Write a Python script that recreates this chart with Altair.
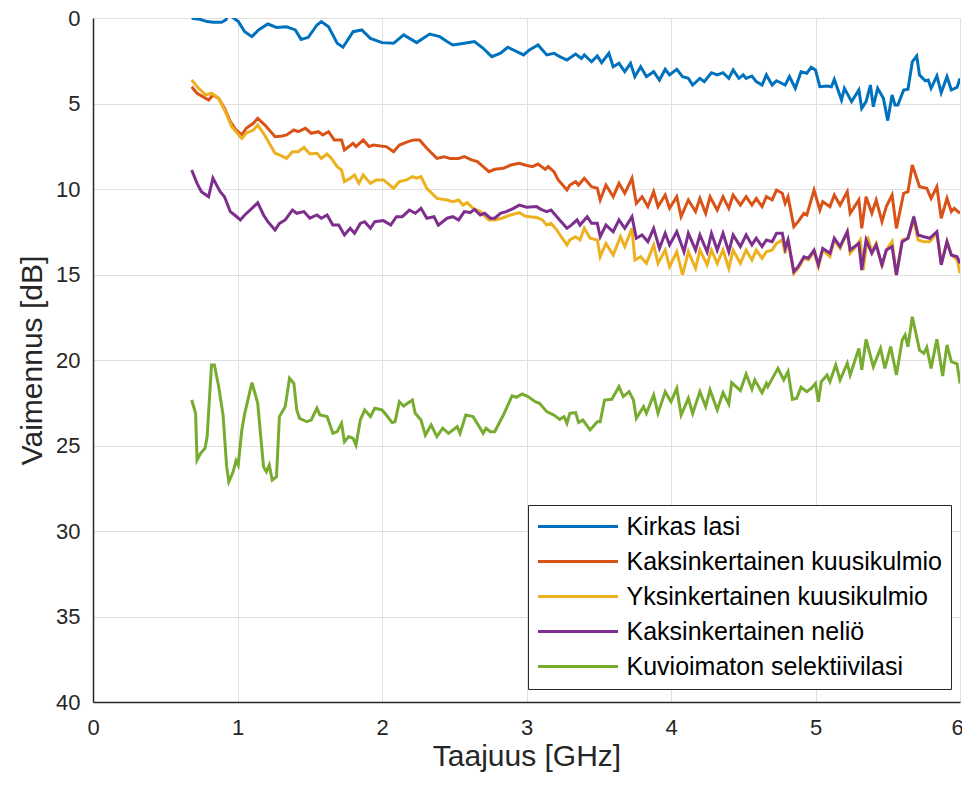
import altair as alt
import pandas as pd

# ---- data ----
series_names = [
    "Kirkas lasi",
    "Kaksinkertainen kuusikulmio",
    "Yksinkertainen kuusikulmio",
    "Kaksinkertainen neliö",
    "Kuvioimaton selektiivilasi",
]
series_colors = ["#0072BD", "#D95319", "#EDB120", "#7E2F8E", "#77AC30"]

blue_x = [0.683, 0.74, 0.79, 0.833, 0.89, 0.92, 0.94, 0.96, 0.98, 1.006, 1.05, 1.10, 1.145, 1.21, 1.27,
          1.34, 1.40, 1.44, 1.49, 1.55, 1.58, 1.63, 1.69, 1.73, 1.80, 1.86, 1.92, 2.00, 2.08, 2.15,
          2.24, 2.33, 2.40, 2.45, 2.49, 2.57, 2.64, 2.70, 2.76, 2.82, 2.87, 2.98, 3.02, 3.08, 3.14,
          3.19, 3.23, 3.28, 3.34, 3.38, 3.40, 3.45, 3.49, 3.52, 3.57, 3.60, 3.64, 3.68, 3.72, 3.75,
          3.79, 3.83, 3.88, 3.92, 3.96, 3.99, 4.04, 4.08, 4.12, 4.15, 4.20, 4.23, 4.28, 4.32, 4.36,
          4.40, 4.43, 4.47, 4.50, 4.52, 4.56, 4.59, 4.63, 4.66, 4.70, 4.73, 4.79, 4.82, 4.86, 4.90,
          4.94, 4.97, 5.00, 5.03, 5.08, 5.11, 5.13, 5.18, 5.20, 5.25, 5.30, 5.32, 5.35, 5.38, 5.40,
          5.43, 5.47, 5.50, 5.53, 5.55, 5.57, 5.61, 5.64, 5.67, 5.70, 5.72, 5.76, 5.78, 5.80, 5.84,
          5.87, 5.91, 5.94, 5.98, 6.00]
blue_y = [0.02, 0.08, 0.21, 0.25, 0.25, 0.10, -0.30, -0.10, 0.05, 0.21, 0.80, 1.09, 0.70, 0.35, 0.55,
          0.51, 0.70, 1.25, 1.13, 0.41, 0.21, 0.51, 1.48, 1.71, 0.80, 0.70, 1.19, 1.44, 1.48, 0.99,
          1.44, 0.94, 1.09, 1.38, 1.58, 1.48, 1.38, 1.77, 2.26, 2.06, 1.71, 2.16, 1.87, 1.58, 2.16,
          2.06, 2.26, 2.46, 2.11, 2.36, 2.16, 2.56, 2.22, 2.61, 2.06, 2.85, 2.65, 3.14, 2.65, 3.43,
          2.85, 3.43, 3.14, 3.63, 3.00, 3.33, 3.00, 3.43, 3.53, 3.92, 3.53, 3.72, 3.20, 3.33, 3.20,
          3.53, 3.04, 3.53, 3.33, 3.53, 3.39, 3.72, 3.92, 3.33, 3.92, 3.67, 3.92, 3.43, 4.11, 3.14,
          3.23, 2.88, 3.04, 4.02, 3.98, 4.02, 3.59, 4.80, 4.11, 4.89, 4.21, 5.28, 4.89, 3.92, 5.19,
          4.11, 4.70, 6.00, 4.50, 5.09, 5.09, 4.21, 4.17, 2.56, 2.22, 3.33, 3.67, 3.63, 4.11, 3.39,
          4.37, 3.43, 4.21, 4.05, 3.53]

orange_x = [0.683, 0.72, 0.80, 0.83, 0.87, 0.91, 0.95, 0.99, 1.03, 1.06, 1.11, 1.14, 1.19, 1.26, 1.31,
            1.34, 1.39, 1.42, 1.47, 1.51, 1.56, 1.59, 1.63, 1.67, 1.72, 1.74, 1.80, 1.82, 1.87, 1.91,
            1.94, 1.99, 2.03, 2.08, 2.12, 2.18, 2.22, 2.26, 2.31, 2.38, 2.43, 2.47, 2.53, 2.57, 2.62,
            2.66, 2.70, 2.74, 2.78, 2.84, 2.89, 2.95, 2.99, 3.04, 3.08, 3.13, 3.15, 3.19, 3.22, 3.28,
            3.30, 3.34, 3.36, 3.40, 3.45, 3.49, 3.51, 3.55, 3.60, 3.64, 3.68, 3.73, 3.76, 3.80, 3.84,
            3.88, 3.91, 3.96, 3.99, 4.04, 4.07, 4.12, 4.17, 4.20, 4.24, 4.27, 4.32, 4.36, 4.40, 4.43,
            4.48, 4.52, 4.56, 4.59, 4.63, 4.66, 4.70, 4.73, 4.77, 4.79, 4.81, 4.85, 4.88, 4.92, 4.94,
            4.99, 5.03, 5.05, 5.10, 5.13, 5.17, 5.22, 5.24, 5.27, 5.30, 5.32, 5.35, 5.39, 5.42, 5.46,
            5.49, 5.53, 5.56, 5.61, 5.64, 5.67, 5.72, 5.77, 5.80, 5.84, 5.87, 5.91, 5.94, 5.96, 6.00]
orange_y = [4.02, 4.40, 4.80, 4.50, 4.70, 5.28, 6.06, 6.55, 6.84, 6.45, 6.16, 5.87, 6.26, 6.94, 6.90,
            6.84, 6.55, 6.65, 6.45, 6.74, 6.65, 6.84, 6.65, 7.13, 7.13, 7.72, 7.33, 7.52, 7.13, 7.52,
            7.43, 7.49, 7.52, 7.82, 7.43, 7.23, 7.13, 7.13, 7.62, 8.21, 8.11, 8.21, 8.21, 8.11, 8.30,
            8.40, 8.69, 8.99, 8.85, 8.79, 8.60, 8.50, 8.60, 8.69, 8.54, 8.85, 8.69, 8.99, 9.47, 10.06,
            9.77, 9.57, 9.77, 9.37, 9.87, 9.96, 10.64, 9.77, 10.45, 9.67, 10.25, 9.37, 10.84, 10.45, 11.03,
            10.16, 11.03, 10.35, 11.13, 10.45, 11.62, 10.64, 11.32, 10.55, 11.42, 10.45, 11.23, 10.45, 11.13, 10.35,
            10.94, 10.45, 10.94, 10.55, 11.03, 10.45, 10.64, 10.06, 10.25, 10.84, 10.45, 12.20, 11.91, 11.42, 11.52,
            10.06, 11.23, 10.74, 11.03, 10.35, 10.94, 10.16, 11.42, 11.03, 10.64, 12.30, 10.45, 11.42, 10.64, 11.91,
            11.03, 10.35, 12.30, 10.25, 10.16, 8.60, 9.87, 9.96, 10.55, 9.87, 11.71, 10.55, 11.32, 11.13, 11.42]

yellow_x = [0.683, 0.73, 0.78, 0.82, 0.87, 0.91, 0.96, 0.99, 1.03, 1.06, 1.11, 1.14, 1.18, 1.22, 1.26,
            1.29, 1.34, 1.38, 1.42, 1.46, 1.50, 1.55, 1.58, 1.62, 1.65, 1.69, 1.72, 1.74, 1.78, 1.81,
            1.84, 1.87, 1.92, 1.96, 2.01, 2.04, 2.08, 2.12, 2.17, 2.21, 2.24, 2.27, 2.31, 2.38, 2.45,
            2.49, 2.53, 2.56, 2.59, 2.63, 2.68, 2.74, 2.78, 2.83, 2.89, 2.95, 2.99, 3.02, 3.07, 3.11,
            3.14, 3.17, 3.21, 3.24, 3.28, 3.30, 3.34, 3.37, 3.40, 3.44, 3.49, 3.51, 3.55, 3.60, 3.65,
            3.68, 3.73, 3.75, 3.79, 3.83, 3.88, 3.91, 3.96, 3.99, 4.04, 4.08, 4.12, 4.17, 4.20, 4.25,
            4.28, 4.32, 4.36, 4.40, 4.43, 4.48, 4.52, 4.56, 4.59, 4.63, 4.66, 4.70, 4.73, 4.77, 4.79,
            4.81, 4.85, 4.88, 4.92, 4.95, 4.99, 5.02, 5.05, 5.10, 5.13, 5.17, 5.22, 5.24, 5.27, 5.31,
            5.33, 5.36, 5.39, 5.42, 5.46, 5.49, 5.53, 5.56, 5.60, 5.64, 5.68, 5.71, 5.75, 5.79, 5.84,
            5.87, 5.91, 5.94, 5.98, 6.00]
yellow_y = [3.63, 4.11, 4.50, 4.40, 4.70, 5.38, 6.35, 6.65, 7.04, 6.74, 6.55, 6.26, 6.74, 7.33, 7.91,
            8.01, 8.21, 7.82, 7.82, 7.56, 7.95, 7.91, 8.21, 7.95, 8.21, 8.69, 8.89, 9.57, 9.37, 9.18,
            9.67, 9.18, 9.67, 9.47, 9.47, 9.67, 9.96, 9.57, 9.47, 9.28, 9.37, 9.28, 9.96, 10.55, 10.64,
            10.74, 10.64, 10.94, 10.80, 11.13, 11.32, 11.81, 11.81, 11.71, 11.52, 11.38, 11.58, 11.62, 11.66, 11.81,
            12.11, 12.01, 12.40, 12.79, 13.27, 12.98, 12.79, 12.98, 12.30, 12.88, 12.98, 13.96, 13.18, 13.86, 12.79,
            13.37, 12.30, 14.15, 13.96, 14.35, 13.27, 14.35, 13.57, 14.54, 13.67, 15.03, 13.67, 14.64, 13.57, 14.44,
            13.57, 14.35, 13.57, 14.64, 13.57, 14.35, 13.57, 14.15, 13.57, 14.05, 13.67, 13.57, 13.18, 12.98, 13.76,
            12.98, 14.93, 14.64, 14.05, 14.15, 13.67, 14.54, 13.57, 13.96, 12.98, 13.47, 12.50, 13.76, 13.47, 12.98,
            14.74, 12.79, 13.67, 13.18, 14.54, 13.57, 13.08, 15.03, 12.98, 12.88, 11.81, 12.98, 13.08, 13.08, 12.59,
            14.35, 13.08, 13.86, 14.15, 14.93]

purple_x = [0.683, 0.72, 0.75, 0.80, 0.83, 0.88, 0.91, 0.95, 0.98, 1.02, 1.05, 1.10, 1.14, 1.18, 1.21,
            1.26, 1.29, 1.33, 1.38, 1.41, 1.46, 1.50, 1.55, 1.58, 1.62, 1.66, 1.70, 1.74, 1.78, 1.81,
            1.85, 1.88, 1.92, 1.95, 2.01, 2.06, 2.10, 2.14, 2.19, 2.23, 2.27, 2.31, 2.36, 2.39, 2.45,
            2.49, 2.53, 2.57, 2.61, 2.64, 2.68, 2.71, 2.75, 2.78, 2.82, 2.86, 2.91, 2.95, 3.00, 3.07,
            3.10, 3.14, 3.17, 3.21, 3.24, 3.28, 3.31, 3.35, 3.37, 3.42, 3.45, 3.49, 3.51, 3.55, 3.60,
            3.64, 3.68, 3.73, 3.76, 3.80, 3.84, 3.88, 3.92, 3.96, 3.99, 4.04, 4.09, 4.12, 4.17, 4.20,
            4.25, 4.28, 4.32, 4.36, 4.40, 4.43, 4.48, 4.52, 4.56, 4.59, 4.63, 4.66, 4.70, 4.73, 4.77,
            4.79, 4.81, 4.85, 4.88, 4.92, 4.95, 4.99, 5.02, 5.05, 5.10, 5.13, 5.17, 5.22, 5.24, 5.27,
            5.30, 5.32, 5.35, 5.39, 5.42, 5.46, 5.49, 5.53, 5.56, 5.60, 5.64, 5.68, 5.71, 5.75, 5.79,
            5.84, 5.87, 5.91, 5.94, 5.98, 6.00]
purple_y = [8.89, 9.67, 10.16, 10.45, 9.37, 10.16, 10.45, 11.32, 11.52, 11.81, 11.52, 11.13, 10.80, 11.52, 11.91,
            12.40, 12.01, 11.81, 11.23, 11.42, 11.32, 11.71, 11.52, 11.71, 11.52, 12.11, 12.11, 12.69, 12.30, 12.59,
            12.01, 11.91, 12.30, 11.91, 11.85, 12.11, 11.62, 11.62, 11.23, 11.42, 11.13, 11.71, 11.62, 12.11, 11.71,
            11.62, 11.81, 11.32, 11.38, 11.19, 11.52, 11.42, 11.71, 11.71, 11.42, 11.32, 11.13, 10.94, 11.07, 11.03,
            11.19, 11.32, 11.23, 11.62, 11.91, 12.30, 12.11, 11.81, 12.11, 11.62, 12.01, 12.01, 12.79, 12.11, 12.50,
            11.81, 12.30, 11.62, 12.88, 12.69, 13.08, 12.30, 13.47, 12.59, 13.27, 12.50, 13.67, 12.59, 13.57, 12.69,
            13.67, 12.59, 13.57, 12.59, 13.67, 12.69, 13.37, 12.69, 13.27, 12.88, 13.37, 12.98, 13.08, 12.59, 12.59,
            13.47, 12.98, 14.83, 14.54, 13.96, 14.05, 13.57, 14.44, 13.47, 13.76, 12.88, 13.37, 12.50, 13.57, 13.37,
            13.18, 14.74, 12.98, 13.76, 13.27, 14.44, 13.57, 13.37, 15.03, 13.08, 12.88, 11.62, 12.69, 12.79, 12.88,
            12.50, 14.44, 13.08, 13.86, 13.96, 14.35]

green_x = [0.683, 0.71, 0.72, 0.745, 0.775, 0.79, 0.82, 0.84, 0.87, 0.90, 0.925, 0.94, 0.97, 0.99, 1.005,
           1.03, 1.05, 1.10, 1.14, 1.18, 1.20, 1.22, 1.24, 1.27, 1.29, 1.33, 1.36, 1.39, 1.41, 1.43,
           1.48, 1.51, 1.55, 1.57, 1.62, 1.66, 1.69, 1.72, 1.74, 1.77, 1.80, 1.82, 1.85, 1.88, 1.92,
           1.95, 2.00, 2.03, 2.07, 2.09, 2.12, 2.15, 2.21, 2.23, 2.27, 2.30, 2.34, 2.38, 2.42, 2.46,
           2.52, 2.54, 2.58, 2.63, 2.67, 2.70, 2.72, 2.75, 2.78, 2.84, 2.90, 2.93, 2.97, 3.01, 3.06,
           3.09, 3.14, 3.19, 3.23, 3.26, 3.28, 3.30, 3.34, 3.36, 3.39, 3.44, 3.49, 3.51, 3.54, 3.59,
           3.64, 3.67, 3.71, 3.74, 3.76, 3.81, 3.83, 3.88, 3.91, 3.96, 4.00, 4.04, 4.07, 4.12, 4.15,
           4.20, 4.24, 4.27, 4.32, 4.36, 4.40, 4.42, 4.48, 4.52, 4.56, 4.58, 4.63, 4.66, 4.67, 4.74,
           4.78, 4.81, 4.84, 4.87, 4.90, 4.94, 4.97, 5.00, 5.02, 5.04, 5.08, 5.10, 5.14, 5.17, 5.22,
           5.24, 5.27, 5.30, 5.32, 5.35, 5.40, 5.45, 5.48, 5.52, 5.56, 5.60, 5.62, 5.64, 5.67, 5.72,
           5.75, 5.77, 5.80, 5.84, 5.88, 5.91, 5.94, 5.98, 6.00]
green_y = [22.34, 23.12, 25.85, 25.46, 25.16, 24.48, 20.29, 20.29, 21.56, 23.22, 26.24, 27.12, 26.53, 25.89, 26.14,
           24.09, 23.12, 21.32, 22.53, 26.24, 26.53, 26.14, 27.02, 26.82, 23.31, 22.73, 21.07, 21.37, 22.92, 23.41,
           23.61, 23.51, 22.82, 23.22, 23.31, 24.29, 24.19, 23.70, 24.78, 24.48, 24.58, 24.97, 23.51, 22.92, 23.31,
           22.82, 22.92, 23.22, 23.66, 23.61, 22.44, 22.69, 22.34, 23.12, 23.51, 24.39, 23.80, 24.48, 23.99, 24.29,
           23.90, 24.29, 23.22, 23.31, 23.86, 24.29, 23.99, 24.19, 24.19, 23.22, 22.10, 22.18, 21.99, 22.14, 22.44,
           22.53, 23.02, 23.22, 23.47, 23.31, 23.70, 23.12, 23.08, 23.66, 23.51, 24.09, 23.61, 23.61, 22.34, 22.30,
           21.56, 22.14, 21.85, 22.34, 23.41, 22.73, 23.12, 22.05, 23.12, 21.85, 22.44, 21.66, 23.22, 22.24, 23.12,
           21.85, 22.73, 21.75, 22.92, 21.91, 22.57, 21.32, 21.79, 20.82, 21.71, 21.17, 21.91, 21.37, 21.56, 20.49,
           21.17, 20.68, 22.30, 22.24, 21.59, 21.85, 21.66, 21.37, 22.44, 21.27, 20.88, 21.27, 20.29, 21.17, 20.19,
           20.88, 20.10, 19.32, 20.58, 18.79, 20.39, 19.32, 20.49, 19.22, 20.88, 18.83, 18.54, 19.22, 17.47, 19.42,
           19.61, 19.26, 20.49, 18.79, 20.94, 19.12, 20.10, 20.23, 21.37]

x_ticks = [0, 1, 2, 3, 4, 5, 6]
y_ticks = [0, 5, 10, 15, 20, 25, 30, 35, 40]

# ---- long table ----
all_x = [blue_x, orange_x, yellow_x, purple_x, green_x]
all_y = [blue_y, orange_y, yellow_y, purple_y, green_y]
rows = []
for name, xs, ys in zip(series_names, all_x, all_y):
    for i, (xv, yv) in enumerate(zip(xs, ys)):
        rows.append({"sarja": name, "f": xv, "a": yv, "i": i})
df = pd.DataFrame(rows)

FONT = "Liberation Sans"
TXT = "#262626"

chart = alt.Chart(df).mark_line(strokeWidth=3, clip=True).encode(
    x=alt.X("f:Q",
            scale=alt.Scale(domain=[0, 6], nice=False, zero=False),
            axis=alt.Axis(values=x_ticks, format="d", title="Taajuus [GHz]",
                          labelFlush=False, labelPadding=15, titlePadding=3,
                          labelOffset={"condition": {"test": "datum.value === 6", "value": -3},
                                       "value": 0})),
    y=alt.Y("a:Q",
            scale=alt.Scale(domain=[0, 40], nice=False, reverse=True),
            axis=alt.Axis(values=y_ticks, format="d", title="Vaimennus [dB]",
                          labelPadding=13, titlePadding=8)),
    color=alt.Color("sarja:N",
                    scale=alt.Scale(domain=series_names, range=series_colors),
                    legend=alt.Legend(title=None, orient="none", legendX=435, legendY=487,
                                      symbolType="M-4,0H4", symbolSize=400, symbolStrokeWidth=3,
                                      labelFontSize=25, labelFont=FONT, labelColor="black",
                                      labelLimit=500, labelOffset=36, padding=9, rowPadding=9,
                                      strokeColor="#262626", fillColor="white", cornerRadius=0,
                                      symbolOffset=28.5)),
    order="i:Q",
    detail="sarja:N",
).properties(
    width=867, height=684,
    autosize=alt.AutoSizeParams(type="none"),
    padding={"left": 85, "top": 10, "right": 2, "bottom": 71},
).configure_view(stroke=None).configure_axis(
    grid=True, gridColor="#e0e0e0", gridWidth=1,
    domainColor=TXT, domainWidth=1.5, ticks=False,
    labelFont=FONT, labelFontSize=22, labelColor=TXT,
    titleFont=FONT, titleFontSize=30, titleColor=TXT, titleFontWeight="normal",
)

chart.save("out.html", embed_options={"renderer": "svg", "actions": False})
